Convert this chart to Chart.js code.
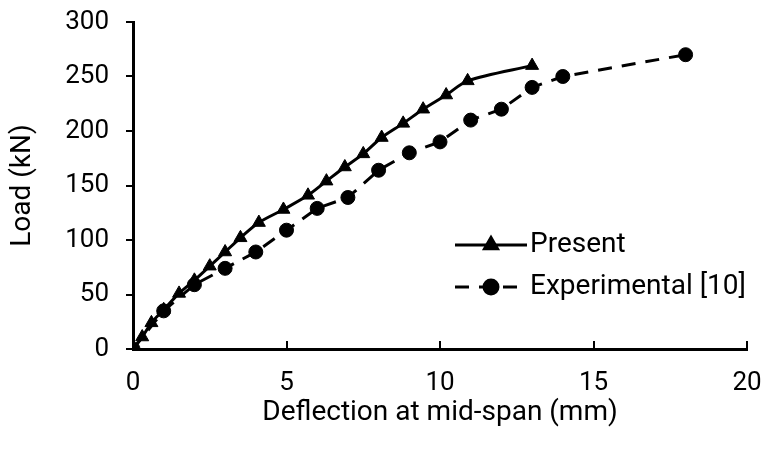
<!DOCTYPE html>
<html>
<head>
<meta charset="utf-8">
<script src="https://cdn.jsdelivr.net/npm/chart.js@4"></script>
<style>
  body { margin: 0; background: #fff; }
  #wrap { width: 763px; height: 455px; }
</style>
</head>
<body>
<div id="wrap"><canvas id="chart" width="763" height="455"></canvas></div>
<script>
// Load-deflection data
var presentX = [0, 0.3, 0.6, 1.0, 1.5, 2.0, 2.5, 3.0, 3.5, 4.1, 4.9, 5.7, 6.3, 6.9, 7.5, 8.1, 8.8, 9.45, 10.2, 10.9, 13.0];
var presentY = [0, 11, 24, 36, 51, 63, 76, 89, 102, 116, 128, 141, 154, 167, 179, 194, 207, 220, 233, 246, 260];

var expX = [0, 1, 2, 3, 4, 5, 6, 7, 8, 9, 10, 11, 12, 13, 14, 18];
var expY = [0, 35, 59, 74, 89, 109, 129, 139, 164, 180, 190, 210, 220, 240, 250, 270];

var xTicks = [0, 5, 10, 15, 20];
var yTicks = [0, 50, 100, 150, 200, 250, 300];

var FONT = 'Roboto, "Open Sans", Arial, sans-serif';
var TICK_SIZE = 26;
var LABEL_SIZE = 28;

function toPoints(xs, ys) {
    var pts = [];
    for (var i = 0; i < xs.length; i++) pts.push({ x: xs[i], y: ys[i] });
    return pts;
}

// x axis ticks point up into the plot
var innerTicks = {
    id: 'innerTicks',
    afterDraw: function (chart) {
        var ctx = chart.ctx, xs = chart.scales.x, ys = chart.scales.y;
        var base = ys.getPixelForValue(0);
        ctx.save();
        ctx.strokeStyle = '#000';
        ctx.lineWidth = 2;
        xTicks.forEach(function (v) {
            if (v === 0) return;
            var px = Math.round(xs.getPixelForValue(v));
            ctx.beginPath();
            ctx.moveTo(px, base);
            ctx.lineTo(px, base - 8);
            ctx.stroke();
        });
        ctx.restore();
    }
};

// legend: line sample with marker, like the original
var lineLegend = {
    id: 'lineLegend',
    afterDraw: function (chart) {
        var ctx = chart.ctx;
        var x0 = 455, x1 = 527, rows = [245, 287];
        ctx.save();
        chart.data.datasets.forEach(function (ds, i) {
            var y = rows[i];
            ctx.strokeStyle = '#000';
            ctx.lineWidth = 3;
            ctx.setLineDash(ds.borderDash || []);
            ctx.beginPath();
            ctx.moveTo(x0, y);
            ctx.lineTo(x1, y);
            ctx.stroke();
            ctx.setLineDash([]);
            Chart.helpers.drawPoint(ctx, {
                pointStyle: ds.pointStyle,
                radius: ds.pointRadius,
                borderWidth: 1
            }, (x0 + x1) / 2, y);
            ctx.fillStyle = '#000';
            ctx.font = LABEL_SIZE + 'px ' + FONT;
            ctx.textBaseline = 'middle';
            ctx.fillText(ds.label, x1 + 3, y);
        });
        ctx.restore();
    }
};

new Chart(document.getElementById('chart'), {
    type: 'scatter',
    data: {
        datasets: [{
            label: 'Present',
            data: toPoints(presentX, presentY),
            showLine: true,
            borderColor: '#000',
            backgroundColor: '#000',
            borderWidth: 3,
            tension: 0.3,
            pointStyle: 'triangle',
            pointRadius: 7.5,
            pointBorderWidth: 1
        }, {
            label: 'Experimental [10]',
            data: toPoints(expX, expY),
            showLine: true,
            borderColor: '#000',
            backgroundColor: '#000',
            borderWidth: 3,
            borderDash: [14, 10],
            pointStyle: 'circle',
            pointRadius: 7,
            pointBorderWidth: 1
        }]
    },
    options: {
        responsive: false,
        animation: false,
        layout: { padding: { top: 22, right: 16, left: 0, bottom: 25 } },
        plugins: {
            legend: { display: false },
            tooltip: { enabled: false }
        },
        scales: {
            x: {
                type: 'linear',
                min: 0,
                max: 20,
                afterBuildTicks: function (s) { s.ticks = xTicks.map(function (v) { return { value: v }; }); },
                afterFit: function (s) { s.height = 81; s.paddingLeft = 0; s.paddingRight = 0; },
                grid: { display: false },
                border: { display: true, color: '#000', width: 3 },
                ticks: { color: '#000', font: { size: TICK_SIZE, family: FONT }, padding: 11, maxRotation: 0 },
                title: {
                    display: true,
                    text: 'Deflection at mid-span (mm)',
                    color: '#000',
                    font: { size: LABEL_SIZE, family: FONT },
                    padding: { top: 0, bottom: 0 }
                }
            },
            y: {
                type: 'linear',
                min: 0,
                max: 300,
                afterBuildTicks: function (s) { s.ticks = yTicks.map(function (v) { return { value: v }; }); },
                afterFit: function (s) { s.width = 133; s.paddingTop = 0; s.paddingBottom = 0; },
                grid: { drawOnChartArea: false, drawTicks: true, tickLength: 7, color: '#000', lineWidth: 2 },
                border: { display: true, color: '#000', width: 3 },
                ticks: { color: '#000', font: { size: TICK_SIZE, family: FONT }, padding: 17 },
                title: {
                    display: true,
                    text: 'Load (kN)',
                    color: '#000',
                    font: { size: LABEL_SIZE, family: FONT },
                    padding: { top: 6, bottom: 0 }
                }
            }
        }
    },
    plugins: [innerTicks, lineLegend]
});
</script>
</body>
</html>
